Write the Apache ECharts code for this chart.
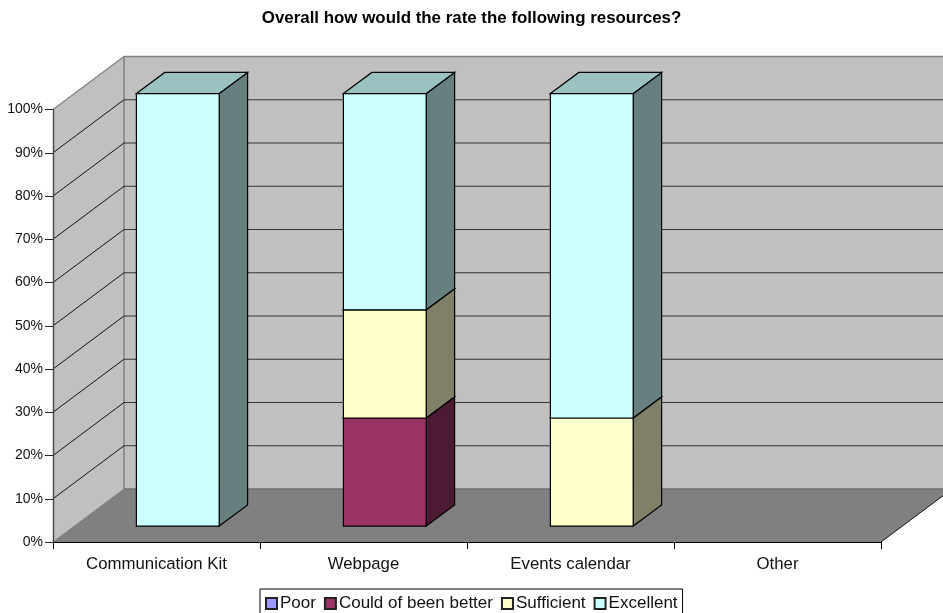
<!DOCTYPE html>
<html>
<head>
<meta charset="utf-8">
<style>html,body{margin:0;padding:0;background:#fff;overflow:hidden}#chart{width:943px;height:613px}</style>
<script src="https://cdn.jsdelivr.net/npm/echarts@6/dist/echarts.min.js"></script>
</head>
<body>
<div id="chart"></div>
<script>
// Share of responses per resource, in percent
const categories = ['Communication Kit', 'Webpage', 'Events calendar', 'Other'];
const poor = [0, 0, 0, 0];
const couldBeBetter = [0, 25, 0, 0];
const sufficient = [0, 25, 25, 0];
const excellent = [100, 50, 75, 0];
const percentTicks = [0, 10, 20, 30, 40, 50, 60, 70, 80, 90, 100];

// Oblique projection: how far the back of the plot sits from the front plane
const DEPTH_X = 71, DEPTH_Y = -53;
const BAR_FRONT = 0.3, BAR_BACK = 0.7, BAR_WIDTH = 0.4;

const FONT = 'Liberation Sans, Arial, sans-serif';
const polygon = (points, fill, stroke, lineWidth) => ({
  type: 'polygon',
  shape: { points },
  style: { fill, stroke: stroke || 'none', lineWidth: lineWidth || 0 }
});
const line = (a, b, stroke, lineWidth) => ({
  type: 'line',
  shape: { x1: a[0], y1: a[1], x2: b[0], y2: b[1] },
  style: { stroke, lineWidth }
});
const back = (p, f) => [p[0] + DEPTH_X * f, p[1] + DEPTH_Y * f];

// Side wall, back wall and floor
function renderWalls(params, api) {
  const cs = params.coordSys;
  const left = cs.x, right = cs.x + cs.width;
  const y0 = api.coord([0, api.value(0)])[1], y1 = api.coord([0, api.value(1)])[1];
  const bl = [left, y0], tl = [left, y1], br = [right, y0];
  return {
    type: 'group',
    children: [
      polygon([back(bl, 1), back(tl, 1), back([right, y1], 1), back(br, 1)], '#c0c0c0'),
      polygon([bl, tl, back(tl, 1), back(bl, 1)], '#c0c0c0'),
      polygon([bl, br, back(br, 1), back(bl, 1)], '#808080'),
      line(tl, back(tl, 1), '#808080', 1.2),
      line(back(tl, 1), back([right, y1], 1), '#808080', 1.4),
      line(back(tl, 1), back(bl, 1), '#808080', 1.5),
      line(bl, back(bl, 1), '#808080', 1),
      line(back(bl, 1), back(br, 1), '#6e6e6e', 1.4),
      line(br, back(br, 1), '#111', 1)
    ]
  };
}

// One gridline running along the side wall and across the back wall
function renderGridline(params, api) {
  const cs = params.coordSys;
  const y = api.coord([0, api.value(0)])[1];
  const a = [cs.x, y];
  return {
    type: 'group',
    children: [
      line(a, back(a, 1), '#111', 1),
      line(back(a, 1), back([cs.x + cs.width, y], 1), '#333', 1.2)
    ]
  };
}

// One stacked block: front, right side and top faces
function shadedBlock(front, side, top) {
  return function (params, api) {
    const low = api.value(1), high = api.value(2);
    if (high <= low) return null;
    const band = api.size([1, 0])[0];
    const cx = api.coord([api.value(0), 0])[0];
    const x0 = cx - band * BAR_WIDTH / 2, x1 = cx + band * BAR_WIDTH / 2;
    const yLow = api.coord([0, low])[1], yHigh = api.coord([0, high])[1];
    const f = p => back(p, BAR_FRONT), b = p => back(p, BAR_BACK);
    const lb = [x0, yLow], rb = [x1, yLow], lt = [x0, yHigh], rt = [x1, yHigh];
    return {
      type: 'group',
      children: [
        polygon([f(rb), f(rt), b(rt), b(rb)], side, '#000', 1.2),
        polygon([f(lt), b(lt), b(rt), f(rt)], top, '#000', 1.2),
        polygon([f(lb), f(lt), f(rt), f(rb)], front, '#000', 1.2)
      ]
    };
  };
}

// Turn one response series into [category, stack bottom, stack top] rows
const running = categories.map(() => 0);
function stackRows(values) {
  return values.map((v, i) => {
    const row = [i, running[i], running[i] + v];
    running[i] += v;
    return row;
  });
}

function blockSeries(name, values, front, side, top) {
  return {
    name,
    type: 'custom',
    coordinateSystem: 'cartesian2d',
    z: 5,
    clip: false,
    silent: true,
    itemStyle: { color: front, borderColor: '#222', borderWidth: 1 },
    encode: { x: 0, y: [1, 2] },
    data: stackRows(values),
    renderItem: shadedBlock(front, side, top)
  };
}

const chart = echarts.init(document.getElementById('chart'), null, { renderer: 'canvas' });
chart.setOption({
  animation: false,
  backgroundColor: '#fff',
  textStyle: { fontFamily: FONT },
  title: {
    text: 'Overall how would the rate the following resources?',
    left: 466.5,
    textAlign: 'center',
    top: 5,
    textStyle: { fontFamily: FONT, fontSize: 16.9, fontWeight: 'bold', color: '#000' }
  },
  legend: {
    left: 260,
    top: 589,
    padding: [6, 5, 13, 5],
    orient: 'horizontal',
    borderColor: '#000',
    borderWidth: 1,
    borderRadius: 0,
    itemWidth: 11,
    itemHeight: 11,
    itemGap: 8,
    icon: 'rect',
    selectedMode: false,
    textStyle: { fontFamily: FONT, fontSize: 17, color: '#111', padding: [0, 0, 0, -2] },
    data: ['Poor', 'Could of been better', 'Sufficient', 'Excellent']
  },
  grid: { left: 53, right: 62, top: 109.5, bottom: 71 },
  xAxis: {
    type: 'category',
    data: categories,
    z: 10,
    axisLine: { lineStyle: { color: '#000', width: 1 } },
    axisTick: { show: true, length: 7, alignWithLabel: false, lineStyle: { color: '#000' } },
    axisLabel: { interval: 0, margin: 14, fontFamily: FONT, fontSize: 16.8, color: '#111' },
    splitLine: { show: false }
  },
  yAxis: {
    type: 'value',
    min: 0,
    max: 100,
    interval: 10,
    z: 10,
    axisLine: { show: true, lineStyle: { color: '#444', width: 1.4 } },
    axisTick: { show: true, length: 8, lineStyle: { color: '#222' } },
    axisLabel: { formatter: '{value}%', margin: 10, fontFamily: FONT, fontSize: 14, color: '#111', padding: [2, 0, 0, 0] },
    splitLine: { show: false }
  },
  series: [
    {
      type: 'custom',
      coordinateSystem: 'cartesian2d',
      z: 1,
      clip: false,
      silent: true,
      encode: { y: 0 },
      data: [[percentTicks[0], percentTicks[percentTicks.length - 1]]],
      renderItem: renderWalls
    },
    {
      type: 'custom',
      coordinateSystem: 'cartesian2d',
      z: 2,
      clip: false,
      silent: true,
      encode: { y: 0 },
      data: percentTicks.slice(1, -1).map(v => [v]),
      renderItem: renderGridline
    },
    blockSeries('Poor', poor, '#9999ff', '#4d4d80', '#7373bf'),
    blockSeries('Could of been better', couldBeBetter, '#993366', '#4d1a33', '#73264d'),
    blockSeries('Sufficient', sufficient, '#ffffcc', '#808066', '#bfbf99'),
    blockSeries('Excellent', excellent, '#ccffff', '#668080', '#99c2c0')
  ]
});
</script>
</body>
</html>
